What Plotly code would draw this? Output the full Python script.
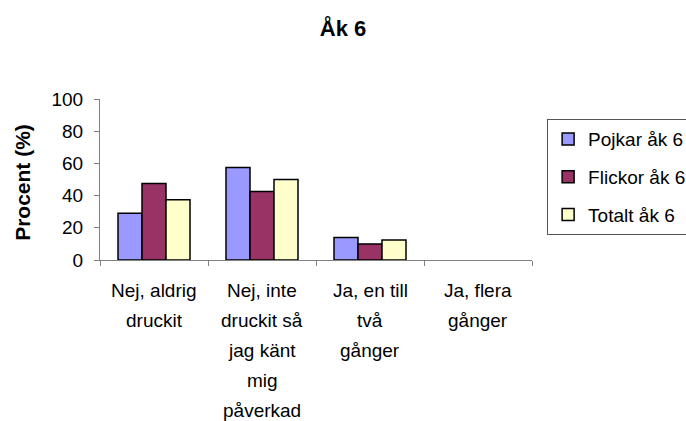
import plotly.graph_objects as go

categories = ["Nej, aldrig druckit", "Nej, inte druckit så jag känt mig påverkad",
              "Ja, en till två gånger", "Ja, flera gånger"]
label_lines = [["Nej, aldrig", "druckit"],
               ["Nej, inte", "druckit så", "jag känt", "mig", "påverkad"],
               ["Ja, en till", "två", "gånger"],
               ["Ja, flera", "gånger"]]
pojkar = [29, 57.5, 14, 0]
flickor = [47.5, 42.5, 10, 0]
totalt = [37.5, 50, 12.5, 0]
series_names = ["Pojkar åk 6", "Flickor åk 6", "Totalt åk 6"]
series_colors = ["#9999FF", "#993366", "#FFFFCC"]
yticks = [0, 20, 40, 60, 80, 100]

FONT = "Liberation Sans, Arial, sans-serif"
FS = 19

fig = go.Figure()
for name, vals, col in zip(series_names, [pojkar, flickor, totalt], series_colors):
    fig.add_trace(go.Bar(x=categories, y=vals, name=name, legendgroup=name,
                         marker=dict(color=col,
                                     line=dict(color="black",
                                               width=[1.5 if v > 0 else 0 for v in vals]))))

annotations = []
for cat, lines in zip(categories, label_lines):
    for i, ln in enumerate(lines):
        annotations.append(dict(x=cat, xref="x", y=0, yref="y", text=ln, showarrow=False,
                                yanchor="middle", yshift=-30 - 30 * i,
                                font=dict(family=FONT, size=FS, color="black")))
annotations.append(dict(x=-0.178, xref="paper", y=0.48, yref="paper", text="<b>Procent (%)</b>",
                        textangle=-90, showarrow=False, xanchor="center", yanchor="middle",
                        font=dict(family=FONT, size=21, color="black")))

fig.update_layout(
    width=686, height=421,
    margin=dict(l=100, r=154, t=99, b=161, autoexpand=False),
    paper_bgcolor="white", plot_bgcolor="white",
    font=dict(family=FONT, size=FS, color="black"),
    title=dict(text="<b>Åk 6</b>", x=0.5, xref="container", xanchor="center",
               y=1 - 28 / 421, yref="container", yanchor="middle",
               font=dict(family=FONT, size=22, color="black")),
    barmode="group", bargap=1 / 3, bargroupgap=0,
    showlegend=True,
    legend=dict(x=1.035, xanchor="left", y=0.875, yanchor="top",
                bordercolor="#555555", borderwidth=1, bgcolor="white",
                traceorder="grouped", tracegroupgap=10,
                font=dict(family=FONT, size=FS, color="black")),
    annotations=annotations,
)
fig.update_xaxes(showticklabels=False, showline=True, linecolor="#808080", linewidth=1.2,
                 ticks="outside", tickson="boundaries", ticklen=5, tickcolor="#808080",
                 showgrid=False, zeroline=False)
fig.update_yaxes(range=[0, 100], tickvals=yticks, showline=True, linecolor="#808080", linewidth=1.2,
                 ticks="outside", ticklen=5, tickcolor="#808080", showgrid=False, zeroline=False,
                 ticklabelstandoff=7,
                 tickfont=dict(family=FONT, size=FS, color="black"))

fig.write_html("out.html", config={"displayModeBar": False},
               post_script="document.body.style.margin='0';")
